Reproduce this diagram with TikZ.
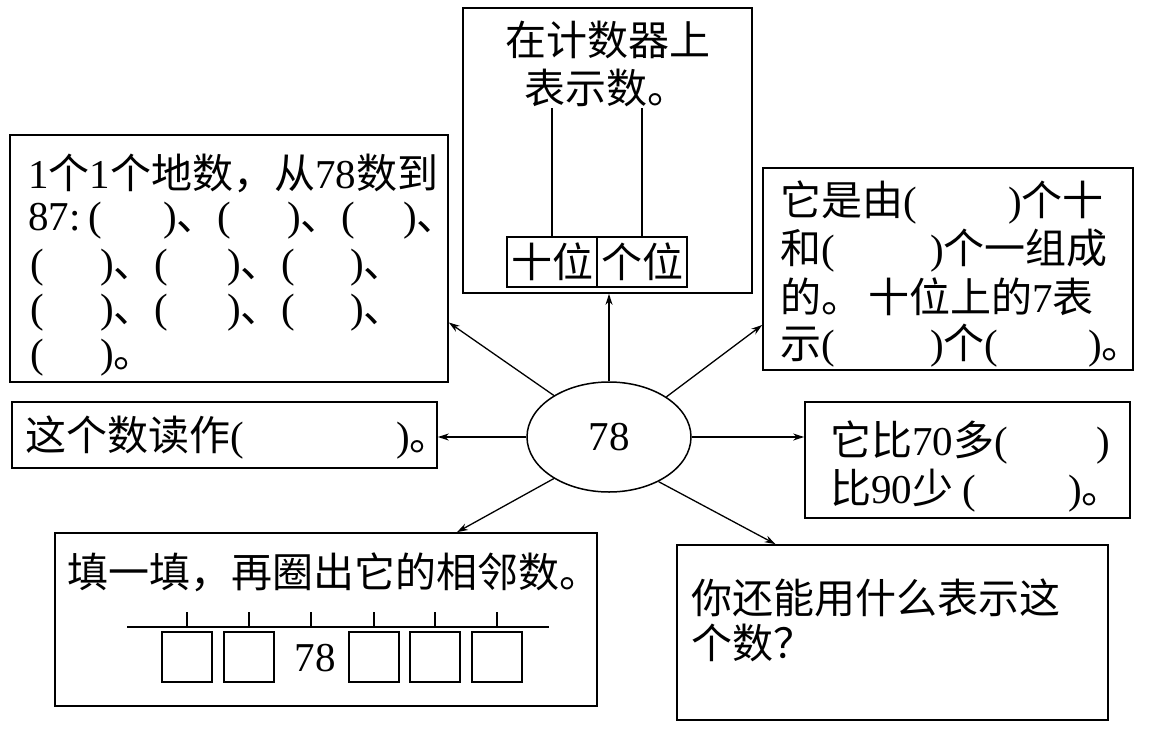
\documentclass[tikz,border=0pt]{standalone}
\usepackage{fontspec}
\setmainfont{Liberation Serif}
\newfontfamily\cjk{Noto Sans CJK SC}
\usetikzlibrary{arrows.meta,shapes.geometric}
\newcommand\zh[1]{{\cjk #1}}
\newcommand\fs{\fontsize{41}{47}\selectfont}
\begin{document}
\begin{tikzpicture}[x=1pt,y=-1pt,
  box/.style={draw, line width=1.7pt, inner sep=0pt, rectangle},
  txt/.style={anchor=base west, inner sep=0pt, font=\fs},
  ctxt/.style={anchor=base, inner sep=0pt, font=\fs},
  arr/.style={line width=1.3pt, -{Stealth[length=11pt,width=7pt]}},
  cell/.style={draw, line width=1.4pt, minimum width=50pt, minimum height=50pt, inner sep=0pt},
  tick/.style={line width=1.2pt}]
\useasboundingbox (0,0) rectangle (1153,731);
\fill[white] (0,0) rectangle (1153,731);

% boxes
\node[box, minimum width=289pt, minimum height=285pt] (top) at (607.5,150.5) {};
\node[box, minimum width=438pt, minimum height=247pt] (lt) at (229,258.5) {};
\node[box, minimum width=425pt, minimum height=66pt] (lm) at (224.5,435) {};
\node[box, minimum width=370pt, minimum height=202pt] (rt) at (948,269) {};
\node[box, minimum width=325pt, minimum height=116pt] (rm) at (967.5,460) {};
\node[box, minimum width=542pt, minimum height=173pt] (bl) at (326,619.5) {};
\node[box, minimum width=431pt, minimum height=175pt] (br) at (892.5,632.5) {};
\node[ellipse, draw, line width=1.5pt, minimum width=164pt, minimum height=110pt, inner sep=0pt, font=\fs] (ell) at (609,437) {78};

% top box content
\node[ctxt] (t1) at (608,55) {\zh{在计数器上}};
\node[ctxt] (t2) at (606,103) {\zh{表示数。}};
\node[draw, line width=1.4pt, minimum width=90pt, minimum height=50pt, inner sep=0pt, font=\fs] (shi) at (552,262) {\zh{十位}};
\node[draw, line width=1.4pt, minimum width=90pt, minimum height=50pt, inner sep=0pt, font=\fs] (ge) at (642,262) {\zh{个位}};
\coordinate (rs) at (552,108);
\coordinate (rg) at (642,108);
\draw[tick] (rs) -- (shi.north);
\draw[tick] (rg) -- (ge.north);

% left top box
\node[txt] (l1) at (28,188) {1\zh{个}1\zh{个地数，从}78\zh{数到}};
\node[txt] (l2a) at (28,230) {87:\hspace{8pt}(};
\node[txt] (l2b) at (163,230) {)\zh{、}(};
\node[txt] (l2c) at (287,230) {)\zh{、}(};
\node[txt] (l2d) at (403,230) {)\zh{、}};
\node[txt] (l3a) at (30,277) {(};
\node[txt] (l3b) at (100,277) {)\zh{、}(};
\node[txt] (l3c) at (227,277) {)\zh{、}(};
\node[txt] (l3d) at (350,277) {)\zh{、}};
\node[txt] (l4a) at (30,322) {(};
\node[txt] (l4b) at (100,322) {)\zh{、}(};
\node[txt] (l4c) at (227,322) {)\zh{、}(};
\node[txt] (l4d) at (350,322) {)\zh{、}};
\node[txt] (l5a) at (30,367) {(};
\node[txt] (l5b) at (100,367) {)\zh{。}};

% left middle
\node[txt] (m1a) at (25,450) {\zh{这个数读作}(};
\node[txt] (m1b) at (396,450) {)\zh{。}};

% right top
\node[txt] (r1a) at (780,215) {\zh{它是由}(};
\node[txt] (r1b) at (1008,215) {)\zh{个十}};
\node[txt] (r2a) at (780,263) {\zh{和}(};
\node[txt] (r2b) at (930,263) {)\zh{个一组成}};
\node[txt] (r3) at (780,312) {\zh{的。}\hspace{6pt}\zh{十位上的}7\zh{表}};
\node[txt] (r4a) at (780,358) {\zh{示}(};
\node[txt] (r4b) at (930,358) {)\zh{个}(};
\node[txt] (r4c) at (1088,358) {)\zh{。}};

% right middle
\node[txt] (s1a) at (830,455) {\zh{它比}70\zh{多}(};
\node[txt] (s1b) at (1096,455) {)};
\node[txt] (s2a) at (830,503) {\zh{比}90\zh{少}\hspace{9pt}(};
\node[txt] (s2b) at (1068,503) {)\zh{。}};

% bottom left
\node[txt] (b1) at (67,587) {\zh{填一填，再圈出它的相邻数。}};
\coordinate (nl0) at (127,627);
\coordinate (nl1) at (549,627);
\draw[tick] (nl0) -- (nl1);
\foreach \x/\n in {187/1,249/2,311/3,374/4,435/5,497/6}{
  \coordinate (tk\n) at (\x,612);
  \draw[tick] (tk\n) -- (tk\n |- nl0);
}
\node[cell] (c1) at (187,657) {};
\node[cell] (c2) at (249,657) {};
\node[inner sep=0pt, font=\fs] (c3) at (315,658) {78};
\node[cell] (c4) at (374,657) {};
\node[cell] (c5) at (435,657) {};
\node[cell] (c6) at (497,657) {};

% bottom right
\node[txt] (q1) at (691,613) {\zh{你还能用什么表示这}};
\node[txt] (q2) at (691,658) {\zh{个数？}};

% arrows
\draw[arr] (ell.north) -- (ell.north |- top.south);
\draw[arr] (ell.143.6) -- ([yshift=-64pt]lt.east);
\draw[arr] (ell.35.3) -- ([yshift=-56pt]rt.west);
\draw[arr] (ell.west) -- (ell.west -| lm.east);
\draw[arr] (ell.east) -- (ell.east -| rm.west);
\draw[arr] (ell.217) -- ([xshift=131pt]bl.north);
\draw[arr] (ell.318) -- ([xshift=-117pt]br.north);
\end{tikzpicture}
\end{document}
